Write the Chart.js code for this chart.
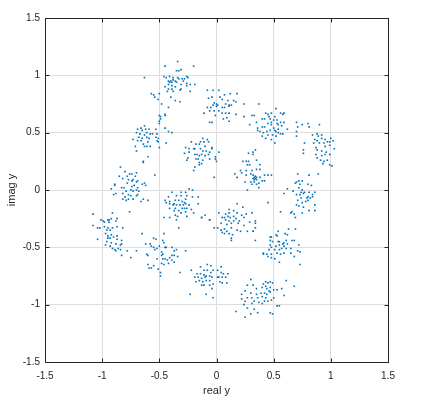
<!DOCTYPE html>
<html><head><meta charset="utf-8">
<script src="https://cdn.jsdelivr.net/npm/chart.js@4/dist/chart.umd.min.js"></script>
<style>html,body{margin:0;padding:0;background:#fff}#c{display:block}</style>
</head><body>
<canvas id="c" width="433" height="398"></canvas>
<script>
// Points, grouped by constellation cluster: [real, imag]
const cluster01 = [[-0.34,1.12],[-0.45,1.08],[-0.20,1.08],[-0.31,1.05],[-0.35,1.04],[-0.33,1.04],[-0.46,0.99],[-0.44,0.98],[-0.41,0.99],[-0.38,0.98],[-0.26,0.99],[-0.25,0.98],[-0.34,0.98],[-0.33,0.97],[-0.30,0.97],[-0.28,0.97],[-0.42,0.95],[-0.40,0.95],[-0.38,0.96],[-0.36,0.95],[-0.41,0.94],[-0.39,0.94],[-0.35,0.94],[-0.29,0.95],[-0.19,0.92],[-0.23,0.92],[-0.26,0.93],[-0.31,0.92],[-0.42,0.92],[-0.39,0.91],[-0.45,0.90],[-0.31,0.88],[-0.26,0.91],[-0.36,0.90],[-0.42,0.88],[-0.39,0.88],[-0.23,0.86],[-0.32,0.87],[-0.43,0.86],[-0.38,0.86],[-0.57,0.84],[-0.55,0.83],[-0.50,0.84],[-0.54,0.81],[-0.40,0.81],[-0.51,0.79],[-0.36,0.78],[-0.32,0.77],[-0.48,0.75],[-0.42,0.72],[-0.45,0.66],[-0.49,0.64],[-0.63,0.98]];
const cluster02 = [[-0.08,0.87],[-0.03,0.87],[0.02,0.87],[0.12,0.84],[0.07,0.83],[0.18,0.84],[-0.04,0.81],[0.03,0.81],[-0.07,0.80],[0.05,0.79],[0.10,0.78],[0.15,0.78],[0.17,0.77],[-0.02,0.76],[0.00,0.75],[0.01,0.74],[-0.03,0.74],[0.08,0.75],[0.11,0.74],[0.13,0.74],[-0.08,0.72],[-0.05,0.72],[0.00,0.73],[0.05,0.72],[0.07,0.72],[0.11,0.73],[-0.06,0.69],[-0.11,0.67],[-0.02,0.69],[0.02,0.69],[0.05,0.67],[0.08,0.67],[0.11,0.67],[0.17,0.66],[-0.01,0.65],[0.09,0.63],[0.06,0.62],[0.11,0.60],[-0.04,0.59],[-0.06,0.59],[0.24,0.75],[0.37,0.75],[0.24,0.64],[0.31,0.65],[0.33,0.65]];
const cluster03 = [[0.52,0.71],[0.48,0.67],[0.43,0.67],[0.45,0.66],[0.56,0.67],[0.59,0.67],[0.58,0.66],[0.46,0.64],[0.51,0.64],[0.40,0.62],[0.42,0.62],[0.47,0.62],[0.53,0.61],[0.48,0.59],[0.50,0.61],[0.56,0.59],[0.59,0.59],[0.35,0.59],[0.29,0.57],[0.45,0.58],[0.48,0.57],[0.53,0.58],[0.54,0.57],[0.57,0.56],[0.36,0.54],[0.40,0.55],[0.42,0.55],[0.50,0.54],[0.51,0.52],[0.54,0.53],[0.62,0.53],[0.36,0.52],[0.38,0.51],[0.41,0.50],[0.44,0.51],[0.47,0.52],[0.52,0.51],[0.54,0.50],[0.56,0.49],[0.58,0.49],[0.45,0.48],[0.49,0.48],[0.52,0.47],[0.40,0.47],[0.43,0.45],[0.51,0.41],[0.48,0.44]];
const cluster04 = [[0.70,0.59],[0.71,0.55],[0.75,0.57],[0.80,0.58],[0.81,0.55],[0.90,0.57],[0.70,0.51],[0.70,0.47],[0.84,0.48],[0.88,0.49],[0.92,0.48],[0.89,0.47],[0.92,0.45],[0.86,0.44],[0.88,0.43],[0.95,0.44],[0.97,0.42],[1.00,0.45],[0.99,0.42],[1.02,0.43],[0.77,0.41],[0.85,0.41],[0.90,0.41],[0.94,0.41],[0.87,0.37],[0.95,0.38],[0.99,0.39],[1.03,0.36],[0.88,0.35],[0.92,0.34],[0.96,0.33],[0.76,0.35],[0.76,0.32],[0.87,0.31],[0.88,0.28],[0.92,0.30],[0.95,0.31],[0.99,0.31],[0.91,0.26],[0.94,0.25],[0.97,0.26],[0.99,0.22],[0.93,0.23],[1.01,0.21]];
const cluster05 = [[-0.50,0.65],[-0.45,0.65],[-0.49,0.62],[-0.50,0.60],[-0.50,0.58],[-0.69,0.53],[-0.66,0.54],[-0.63,0.56],[-0.62,0.53],[-0.59,0.53],[-0.53,0.53],[-0.65,0.52],[-0.61,0.50],[-0.58,0.49],[-0.70,0.50],[-0.67,0.49],[-0.63,0.48],[-0.56,0.49],[-0.52,0.49],[-0.45,0.54],[-0.42,0.51],[-0.39,0.50],[-0.68,0.46],[-0.65,0.45],[-0.61,0.46],[-0.59,0.45],[-0.53,0.46],[-0.51,0.45],[-0.69,0.43],[-0.66,0.43],[-0.60,0.42],[-0.52,0.43],[-0.51,0.42],[-0.64,0.40],[-0.44,0.41],[-0.71,0.38],[-0.63,0.38],[-0.61,0.38],[-0.58,0.38],[-0.50,0.37],[-0.70,0.34],[-0.60,0.29],[-0.64,0.25],[-0.73,0.44]];
const cluster06 = [[-0.12,0.45],[-0.08,0.44],[-0.22,0.42],[-0.14,0.42],[-0.11,0.42],[-0.07,0.42],[-0.18,0.40],[-0.15,0.40],[-0.10,0.38],[-0.04,0.37],[-0.04,0.36],[-0.27,0.37],[-0.24,0.36],[-0.20,0.36],[-0.19,0.36],[-0.14,0.36],[-0.12,0.34],[-0.09,0.34],[-0.06,0.33],[-0.28,0.32],[-0.24,0.33],[-0.19,0.31],[-0.17,0.31],[-0.15,0.30],[-0.13,0.31],[-0.10,0.30],[-0.07,0.31],[0.02,0.33],[-0.01,0.29],[-0.01,0.27],[-0.25,0.28],[-0.18,0.27],[-0.16,0.27],[-0.12,0.26],[-0.06,0.27],[-0.26,0.26],[-0.15,0.24],[-0.13,0.23],[-0.15,0.22],[0.00,0.25],[-0.19,0.20],[-0.20,0.17],[-0.02,0.11]];
const cluster07 = [[0.28,0.32],[0.32,0.33],[0.32,0.31],[0.23,0.25],[0.26,0.25],[0.28,0.25],[0.35,0.26],[0.27,0.22],[0.29,0.22],[0.38,0.22],[0.21,0.17],[0.22,0.15],[0.26,0.17],[0.31,0.17],[0.35,0.18],[0.38,0.18],[0.16,0.14],[0.18,0.11],[0.26,0.13],[0.30,0.14],[0.32,0.13],[0.33,0.11],[0.34,0.10],[0.35,0.09],[0.38,0.11],[0.42,0.13],[0.45,0.13],[0.48,0.13],[0.25,0.07],[0.30,0.07],[0.33,0.07],[0.37,0.06],[0.40,0.08],[0.42,0.08],[0.31,0.05],[0.35,0.05],[0.37,0.02],[0.27,0.00],[0.45,-0.11],[0.34,0.35],[0.33,0.09],[0.34,0.12],[0.32,0.10],[0.35,0.11]];
const cluster08 = [[0.71,0.14],[0.81,0.13],[0.89,0.14],[0.72,0.08],[0.70,0.07],[0.75,0.08],[0.69,0.06],[0.73,0.05],[0.80,0.05],[0.83,0.04],[0.62,0.01],[0.67,-0.01],[0.72,0.02],[0.75,0.00],[0.77,-0.02],[0.59,-0.03],[0.74,-0.02],[0.76,-0.03],[0.81,-0.02],[0.86,-0.02],[0.70,-0.04],[0.73,-0.04],[0.84,-0.04],[0.80,-0.06],[0.84,-0.06],[0.74,-0.07],[0.79,-0.07],[0.82,-0.07],[0.71,-0.09],[0.78,-0.10],[0.80,-0.09],[0.75,-0.11],[0.70,-0.13],[0.72,-0.14],[0.86,-0.13],[0.76,-0.15],[0.81,-0.18],[0.86,-0.18],[0.56,-0.19],[0.65,-0.20],[0.68,-0.21],[0.69,-0.24],[0.75,-0.20],[0.66,-0.19]];
const cluster09 = [[-0.64,0.24],[-0.84,0.20],[-0.80,0.16],[-0.76,0.14],[-0.74,0.14],[-0.70,0.15],[-0.78,0.12],[-0.71,0.12],[-0.85,0.12],[-0.54,0.13],[-0.82,0.10],[-0.77,0.09],[-0.74,0.08],[-0.73,0.09],[-0.69,0.08],[-0.70,0.07],[-0.89,0.05],[-0.78,0.06],[-0.65,0.05],[-0.63,0.06],[-0.62,0.04],[-0.89,0.04],[-0.83,0.02],[-0.81,0.02],[-0.74,0.03],[-0.72,0.04],[-0.69,0.02],[-0.92,0.01],[-0.79,-0.01],[-0.75,0.00],[-0.73,-0.01],[-0.70,0.00],[-0.68,-0.01],[-0.90,-0.04],[-0.88,-0.03],[-0.82,-0.03],[-0.77,-0.04],[-0.75,-0.05],[-0.70,-0.05],[-0.69,-0.04],[-0.80,-0.06],[-0.82,-0.08],[-0.79,-0.09],[-0.77,-0.08],[-0.73,-0.08],[-0.64,-0.08],[-0.66,-0.10],[-0.60,-0.09],[-0.91,-0.20],[-0.76,-0.19]];
const cluster10 = [[-0.24,0.01],[-0.21,0.00],[-0.39,-0.02],[-0.31,-0.02],[-0.27,-0.02],[-0.35,-0.05],[-0.31,-0.05],[-0.26,-0.05],[-0.21,-0.06],[-0.16,-0.06],[-0.42,-0.06],[-0.27,-0.08],[-0.45,-0.09],[-0.41,-0.10],[-0.36,-0.09],[-0.33,-0.09],[-0.30,-0.10],[-0.28,-0.11],[-0.44,-0.11],[-0.41,-0.12],[-0.38,-0.13],[-0.37,-0.12],[-0.35,-0.13],[-0.32,-0.13],[-0.29,-0.13],[-0.27,-0.12],[-0.24,-0.13],[-0.16,-0.12],[-0.41,-0.16],[-0.36,-0.16],[-0.30,-0.16],[-0.28,-0.16],[-0.26,-0.16],[-0.22,-0.17],[-0.37,-0.18],[-0.33,-0.18],[-0.27,-0.19],[-0.20,-0.20],[-0.31,-0.20],[-0.10,-0.22],[-0.36,-0.22],[-0.34,-0.23],[-0.46,-0.24],[-0.41,-0.24],[-0.26,-0.23],[-0.13,-0.24],[-0.35,-0.26],[-0.33,-0.33],[-0.06,-0.26]];
const cluster11 = [[0.18,-0.12],[0.23,-0.15],[0.11,-0.17],[0.15,-0.18],[0.31,-0.20],[0.02,-0.20],[0.08,-0.21],[0.11,-0.20],[0.18,-0.20],[0.26,-0.21],[-0.13,-0.24],[-0.06,-0.26],[0.05,-0.24],[0.07,-0.24],[0.10,-0.23],[0.12,-0.24],[0.15,-0.23],[0.22,-0.22],[0.24,-0.24],[0.17,-0.25],[0.08,-0.26],[0.11,-0.27],[0.15,-0.27],[0.20,-0.27],[0.29,-0.28],[0.34,-0.27],[0.04,-0.29],[0.09,-0.30],[0.13,-0.29],[0.19,-0.29],[0.24,-0.31],[-0.02,-0.33],[0.01,-0.33],[0.04,-0.35],[0.07,-0.34],[0.13,-0.33],[0.18,-0.35],[0.21,-0.36],[0.09,-0.36],[0.27,-0.36],[0.32,-0.36],[0.34,-0.33],[0.05,-0.37],[0.07,-0.38],[0.11,-0.38],[0.14,-0.39],[0.13,-0.42],[0.13,-0.44]];
const cluster12 = [[0.34,-0.29],[0.32,-0.36],[0.63,-0.34],[0.69,-0.34],[0.54,-0.36],[0.60,-0.38],[0.62,-0.39],[0.52,-0.39],[0.53,-0.40],[0.48,-0.41],[0.47,-0.41],[0.68,-0.44],[0.66,-0.44],[0.34,-0.44],[0.47,-0.44],[0.49,-0.45],[0.54,-0.45],[0.55,-0.45],[0.58,-0.47],[0.59,-0.46],[0.61,-0.44],[0.62,-0.47],[0.72,-0.48],[0.55,-0.48],[0.52,-0.49],[0.47,-0.48],[0.59,-0.49],[0.48,-0.50],[0.46,-0.52],[0.51,-0.52],[0.55,-0.52],[0.57,-0.51],[0.61,-0.51],[0.65,-0.51],[0.71,-0.53],[0.73,-0.54],[0.41,-0.55],[0.44,-0.56],[0.48,-0.56],[0.53,-0.55],[0.56,-0.56],[0.59,-0.55],[0.65,-0.55],[0.68,-0.58],[0.45,-0.58],[0.48,-0.59],[0.51,-0.60],[0.55,-0.63],[0.73,-0.65],[0.41,-0.56]];
const cluster13 = [[-1.08,-0.21],[-1.01,-0.26],[-0.99,-0.27],[-0.95,-0.26],[-0.94,-0.26],[-0.92,-0.25],[-0.88,-0.27],[-0.87,-0.25],[-0.98,-0.28],[-0.94,-0.28],[-1.08,-0.31],[-1.04,-0.33],[-1.02,-0.33],[-0.98,-0.32],[-0.95,-0.33],[-0.91,-0.33],[-0.87,-0.32],[-0.82,-0.33],[-0.96,-0.35],[-0.93,-0.35],[-0.97,-0.38],[-0.95,-0.40],[-0.92,-0.39],[-0.90,-0.41],[-0.87,-0.40],[-1.04,-0.43],[-0.95,-0.42],[-0.93,-0.42],[-0.87,-0.43],[-0.83,-0.44],[-0.96,-0.45],[-0.92,-0.46],[-0.88,-0.47],[-0.97,-0.48],[-0.93,-0.49],[-0.84,-0.48],[-0.83,-0.47],[-0.91,-0.51],[-0.89,-0.52],[-0.86,-0.51],[-0.84,-0.52],[-0.83,-0.57],[-0.88,-0.53],[-0.78,-0.53],[-0.75,-0.59],[-0.70,-0.53],[-0.65,-0.38]];
const cluster14 = [[-0.55,-0.42],[-0.53,-0.43],[-0.62,-0.47],[-0.58,-0.47],[-0.57,-0.49],[-0.55,-0.50],[-0.47,-0.44],[-0.46,-0.46],[-0.61,-0.56],[-0.60,-0.57],[-0.54,-0.52],[-0.52,-0.51],[-0.50,-0.49],[-0.45,-0.50],[-0.44,-0.50],[-0.39,-0.50],[-0.37,-0.53],[-0.35,-0.52],[-0.27,-0.53],[-0.48,-0.54],[-0.47,-0.56],[-0.48,-0.57],[-0.52,-0.60],[-0.47,-0.60],[-0.45,-0.60],[-0.41,-0.59],[-0.39,-0.57],[-0.37,-0.57],[-0.34,-0.58],[-0.43,-0.61],[-0.39,-0.61],[-0.37,-0.63],[-0.42,-0.64],[-0.48,-0.64],[-0.60,-0.65],[-0.59,-0.68],[-0.57,-0.68],[-0.55,-0.66],[-0.51,-0.69],[-0.46,-0.65],[-0.49,-0.72],[-0.49,-0.75],[-0.32,-0.72],[-0.46,-0.38]];
const cluster15 = [[-0.08,-0.65],[-0.14,-0.67],[-0.05,-0.66],[0.04,-0.67],[-0.22,-0.70],[-0.11,-0.70],[-0.08,-0.70],[-0.05,-0.72],[-0.03,-0.70],[0.01,-0.70],[0.04,-0.72],[0.06,-0.73],[0.10,-0.73],[-0.17,-0.73],[-0.14,-0.73],[-0.11,-0.74],[-0.09,-0.75],[-0.06,-0.75],[-0.19,-0.76],[-0.16,-0.76],[-0.13,-0.77],[-0.10,-0.76],[-0.04,-0.76],[0.01,-0.76],[0.02,-0.76],[0.05,-0.76],[0.08,-0.76],[-0.18,-0.80],[-0.15,-0.79],[-0.12,-0.80],[-0.09,-0.79],[-0.06,-0.79],[0.03,-0.80],[0.09,-0.81],[-0.13,-0.83],[-0.11,-0.83],[-0.06,-0.83],[-0.03,-0.82],[0.05,-0.81],[-0.04,-0.86],[-0.09,-0.91],[-0.03,-0.94],[-0.23,-0.91]];
const cluster16 = [[0.30,-0.78],[0.43,-0.80],[0.47,-0.80],[0.61,-0.79],[0.27,-0.83],[0.32,-0.83],[0.41,-0.82],[0.45,-0.81],[0.49,-0.81],[0.68,-0.84],[0.35,-0.86],[0.40,-0.85],[0.43,-0.84],[0.47,-0.85],[0.50,-0.87],[0.44,-0.86],[0.53,-0.87],[0.57,-0.86],[0.25,-0.88],[0.46,-0.88],[0.47,-0.89],[0.30,-0.90],[0.35,-0.91],[0.39,-0.90],[0.42,-0.90],[0.44,-0.91],[0.22,-0.91],[0.27,-0.94],[0.31,-0.94],[0.36,-0.94],[0.40,-0.93],[0.43,-0.94],[0.50,-0.94],[0.59,-0.92],[0.22,-0.95],[0.25,-0.97],[0.33,-0.97],[0.37,-0.98],[0.42,-0.97],[0.45,-0.97],[0.48,-0.96],[0.24,-1.00],[0.31,-0.99],[0.40,-0.99],[0.53,-1.01],[0.55,-1.01],[0.27,-1.03],[0.33,-1.04],[0.36,-1.07],[0.30,-1.08],[0.47,-1.07],[0.49,-1.08],[0.17,-1.06],[0.25,-1.11]];

const tickValues = [-1.5, -1, -0.5, 0, 0.5, 1, 1.5];
const tickLabels = ['-1.5', '-1', '-0.5', '0', '0.5', '1', '1.5'];
const xTitle = 'real y';
const yTitle = 'imag y';

const allPoints = [].concat(cluster01, cluster02, cluster03, cluster04, cluster05, cluster06, cluster07, cluster08,
  cluster09, cluster10, cluster11, cluster12, cluster13, cluster14, cluster15, cluster16)
  .map(p => ({x: p[0], y: p[1]}));

const AXIS = '#262626';
const boxPlugin = {
  id: 'octaveBox',
  afterDraw(chart) {
    const {ctx, chartArea: a, scales} = chart;
    ctx.save();
    ctx.strokeStyle = AXIS;
    ctx.lineWidth = 1;
    const L = Math.round(a.left) + 0.5, R = Math.round(a.right) + 0.5;
    const T = Math.round(a.top) + 0.5, B = Math.round(a.bottom) + 0.5;
    ctx.strokeRect(L, T, R - L, B - T);
    const tl = 4;
    ctx.beginPath();
    tickValues.forEach(v => {
      const x = Math.round(scales.x.getPixelForValue(v)) + 0.5;
      ctx.moveTo(x, B); ctx.lineTo(x, B - tl);
      ctx.moveTo(x, T); ctx.lineTo(x, T + tl);
      const y = Math.round(scales.y.getPixelForValue(v)) + 0.5;
      ctx.moveTo(L, y); ctx.lineTo(L + tl, y);
      ctx.moveTo(R, y); ctx.lineTo(R - tl, y);
    });
    ctx.stroke();
    ctx.restore();
  }
};

const tickFont = {family: '"Liberation Sans", Arial, sans-serif', size: 10};
const titleFont = {family: '"Liberation Sans", Arial, sans-serif', size: 11};

new Chart(document.getElementById('c'), {
  type: 'scatter',
  data: {
    datasets: [{
      data: allPoints,
      backgroundColor: '#0072BD',
      borderWidth: 0,
      pointStyle: 'rect',
      pointRadius: 1.15,
      pointHoverRadius: 1.15
    }]
  },
  options: {
    responsive: false,
    animation: false,
    events: [],
    layout: {padding: {top: 18, right: 45, left: 0, bottom: 0}},
    plugins: {legend: {display: false}, tooltip: {enabled: false}},
    scales: {
      x: {
        type: 'linear', min: -1.5, max: 1.5,
        afterBuildTicks: s => { s.ticks = tickValues.map(v => ({value: v})); },
        afterFit: s => { s.height = 36; },
        grid: {color: '#dedede', lineWidth: 1, drawTicks: false},
        border: {display: false},
        ticks: {color: AXIS, font: tickFont, padding: 8, maxRotation: 0,
                callback: (v, i) => tickLabels[tickValues.indexOf(v)]},
        title: {display: true, text: xTitle, color: AXIS, font: titleFont, padding: {top: 4.4, bottom: 0}}
      },
      y: {
        type: 'linear', min: -1.5, max: 1.5,
        afterBuildTicks: s => { s.ticks = tickValues.map(v => ({value: v})); },
        afterFit: s => { s.width = 45; },
        grid: {color: '#dedede', lineWidth: 1, drawTicks: false},
        border: {display: false},
        ticks: {color: AXIS, font: tickFont, padding: 5,
                callback: (v, i) => tickLabels[tickValues.indexOf(v)]},
        title: {display: true, text: yTitle, color: AXIS, font: titleFont, padding: {top: 5.4, bottom: 0}}
      }
    }
  },
  plugins: [boxPlugin]
});
</script>
</body></html>
